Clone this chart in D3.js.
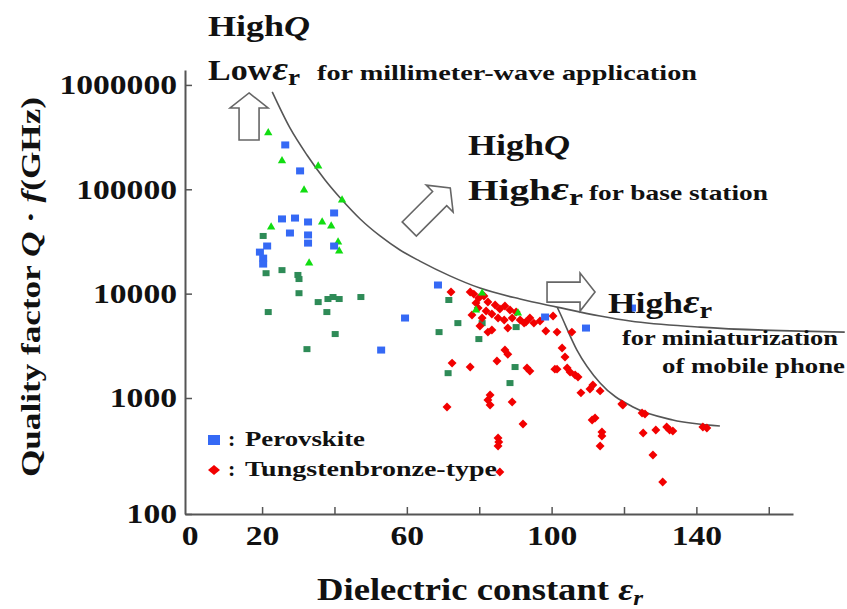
<!DOCTYPE html>
<html>
<head>
<meta charset="utf-8">
<script src="https://cdn.jsdelivr.net/npm/d3@7"></script>
<style>
  body { margin: 0; background: #fff; }
  svg { display: block; }
  text { font-family: "Liberation Serif", Tinos, "Times New Roman", "Nimbus Roman", FreeSerif, serif; font-weight: bold; fill: #111; }
</style>
</head>
<body>
<div id="chart"></div>
<script>
// [dielectric constant, Q*f (GHz)]
const perovskite = [
  [26.4, 266000], [30.5, 150000], [25.5, 52000], [29.1, 53000], [32.7, 48600],
  [27.7, 38100], [32.7, 36500], [32.7, 30500], [39.9, 59300], [39.9, 28600],
  [21.4, 28600], [19.4, 25000], [20.3, 21900], [20.3, 19200], [52.9, 2880],
  [68.6, 12100], [59.5, 5840], [98.2, 5970], [109.5, 4680], [122.2, 7280]
];
const tungstenbronze = [
  [72.2, 10350], [77.5, 10350], [78.5, 9900], [79.9, 9080], [81.3, 9500],
  [79.1, 8120], [82.4, 8300], [84.4, 7780], [85.7, 7120], [87.1, 7600],
  [88.5, 6960], [90.2, 6660], [79.7, 7280], [81.9, 6810], [83.5, 6370],
  [78.0, 6230], [80.8, 5840], [85.2, 5840], [86.9, 5580], [89.1, 5840],
  [91.3, 5580], [92.9, 5340], [94.0, 5840], [95.1, 5220], [96.8, 5460],
  [98.4, 4380], [100.4, 6100], [101.5, 4280], [105.6, 4280], [82.4, 4280],
  [83.5, 4480], [80.2, 4890], [87.9, 4680], [92.4, 5220],
  [72.5, 2160], [77.5, 1980], [71.1, 836], [83.0, 1070], [82.4, 961],
  [83.0, 871], [84.9, 2260], [87.1, 2880], [87.9, 2630], [89.1, 924],
  [92.1, 597], [85.2, 452], [85.4, 418], [85.2, 386], [85.7, 230],
  [93.2, 1940], [94.0, 1810], [100.9, 1890], [101.5, 1890], [104.3, 1940],
  [105.1, 1770], [106.5, 1660], [107.3, 1590], [102.9, 3010], [103.7, 2470],
  [108.1, 1120], [110.6, 1220], [111.4, 1330], [113.4, 1170], [111.2, 646],
  [112.0, 673], [113.9, 509], [113.9, 470], [113.4, 386], [119.4, 888],
  [119.7, 871], [125.0, 743], [125.8, 728], [125.3, 499], [128.8, 530],
  [131.8, 562], [132.6, 530], [133.5, 520], [128.0, 323], [130.7, 189],
  [141.8, 562], [142.9, 551]
];
// unlabelled groups in the original figure
const otherSquares = [
  [20.3, 35700], [21.1, 15700], [25.5, 16800], [29.9, 15100], [30.2, 13800],
  [30.2, 10100], [35.5, 8300], [38.2, 8880], [39.6, 9280], [41.3, 8880],
  [47.3, 9280], [21.7, 6660], [37.9, 6660], [40.2, 4100], [32.4, 2940],
  [71.6, 8690], [74.1, 5220], [68.9, 4280], [79.9, 3670], [80.8, 5220],
  [90.2, 4780], [89.9, 1980], [88.5, 1390], [71.4, 1730]
];
const otherTriangles = [
  [21.7, 347000], [25.5, 187000], [35.5, 167000], [31.6, 98400], [42.1, 78900],
  [22.5, 43500], [36.6, 48600], [39.1, 44400], [41.0, 31200], [41.3, 25600],
  [33.0, 19600], [80.8, 10100], [79.1, 6960], [90.7, 6520]
];
// guide curves
const limitLowEr = [
  [22.8, 857000], [27.7, 387000], [32.4, 213000], [37.4, 122700], [42.1, 78900],
  [47.1, 51900], [52.6, 35700], [58.1, 26200], [63.6, 20500], [71.9, 14800],
  [80.2, 11300], [91.3, 8880], [101.5, 7430], [113.4, 6100], [121.7, 5460],
  [141.0, 4780], [181.0, 4280]
];
const limitHighEr = [
  [101.6, 7350], [102.3, 6520], [107.0, 2877], [113.4, 1390], [122.5, 836],
  [133.5, 646], [146.5, 574]
];
const xTicks = [0, 20, 40, 60, 80, 100, 120, 140, 160];
const xLabels = [0, 20, 60, 100, 140];
const yTicks = [100, 1000, 10000, 100000, 1000000];

const width = 847, height = 609;
const svg = d3.select("#chart").append("svg")
  .attr("width", width).attr("height", height);

const x = d3.scaleLinear().domain([-1.3, 166.7]).range([185, 793]);
const y = d3.scaleLog().domain([100, 1000, 1.39e6]).range([514, 398, 70]);

const serif = '"Liberation Serif", Tinos, "Times New Roman", "Nimbus Roman", FreeSerif, serif';
const stretch = (sel, perChar) => sel
  .attr("textLength", function() { return this.textContent.length * perChar; })
  .attr("lengthAdjust", "spacingAndGlyphs");

// axes
const xAxis = d3.axisBottom(x).tickValues(xTicks)
  .tickSizeInner(-7).tickSizeOuter(0).tickPadding(11)
  .tickFormat(d => xLabels.includes(d) ? d : "");
const gx = svg.append("g").attr("transform", "translate(0,514)").call(xAxis);
gx.selectAll(".tick").filter(d => d === 0).select("line").remove();

const yAxis = d3.axisLeft(y).tickValues(yTicks)
  .tickSizeInner(-7).tickSizeOuter(0).tickPadding(8)
  .tickFormat(d3.format("d"));
const gy = svg.append("g").attr("transform", "translate(185,0)").call(yAxis);

[gx, gy].forEach(g => {
  g.attr("font-family", serif);
  g.select(".domain").attr("stroke", "#555").attr("stroke-width", 2);
  g.selectAll(".tick line").attr("stroke", "#555").attr("stroke-width", 1.5);
  g.selectAll(".tick text")
    .attr("font-weight", "bold")
    .attr("font-size", 28).attr("fill", "#111")
    .call(stretch, 16.8);
});

// guide curves
const line = d3.line().x(d => x(d[0])).y(d => y(d[1])).curve(d3.curveMonotoneX);
svg.append("g").selectAll("path").data([limitLowEr, limitHighEr]).join("path")
  .attr("d", line).attr("fill", "none").attr("stroke", "#555").attr("stroke-width", 1.6);

// points
svg.append("g").selectAll("rect").data(otherSquares).join("rect")
  .attr("x", d => x(d[0]) - 3.5).attr("y", d => y(d[1]) - 3)
  .attr("width", 7).attr("height", 6).attr("fill", "#2e8b57");

svg.append("g").selectAll("path").data(tungstenbronze).join("path")
  .attr("d", d3.symbol(d3.symbolSquare, 40))
  .attr("transform", d => `translate(${x(d[0])},${y(d[1])}) rotate(45)`)
  .attr("fill", "#f20000");

svg.append("g").selectAll("path").data(otherTriangles).join("path")
  .attr("d", d3.symbol(d3.symbolTriangle, 30))
  .attr("transform", d => `translate(${x(d[0])},${y(d[1])})`)
  .attr("fill", "#11dd11");

svg.append("g").selectAll("rect").data(perovskite).join("rect")
  .attr("x", d => x(d[0]) - 4).attr("y", d => y(d[1]) - 3.5)
  .attr("width", 8).attr("height", 7).attr("fill", "#3569f5");

// block arrows (tip position in data units, rotation in degrees)
const arrows = [
  { er: 16.4, qf: 838000, angle: 0, len: 47 },
  { er: 72.0, qf: 103000, angle: 45, len: 58 },
  { er: 112.0, qf: 10350, angle: 90, len: 48 }
];
const arrowPath = len => {
  const hw = 19, sw = 10, hl = 15;
  return `M0,0L${hw},${hl}L${sw},${hl}L${sw},${len}L${-sw},${len}L${-sw},${hl}L${-hw},${hl}Z`;
};
svg.append("g").selectAll("path").data(arrows).join("path")
  .attr("d", d => arrowPath(d.len))
  .attr("transform", d => `translate(${x(d.er)},${y(d.qf)}) rotate(${d.angle})`)
  .attr("fill", "#fff").attr("stroke", "#666").attr("stroke-width", 1.6);

// annotations
function highLabel(xp, yp, word, sym, w) {
  const t = svg.append("text").attr("x", xp).attr("y", yp).attr("font-size", 30);
  t.append("tspan").text(word);
  if (sym === "Q") {
    t.append("tspan").attr("font-style", "italic").text("Q");
  } else {
    t.append("tspan").attr("font-style", "italic").attr("font-size", 34).text("ε");
    t.append("tspan").attr("font-size", 24).attr("dy", 5).text("r");
  }
  t.attr("textLength", w).attr("lengthAdjust", "spacingAndGlyphs");
}
highLabel(208, 36, "High", "Q", 102);
highLabel(208, 80, "Low", "e", 92);
highLabel(468, 155, "High", "Q", 102);
highLabel(468, 200, "High", "e", 115);
highLabel(608, 313, "High", "e", 104);

const notes = [
  { x: 317, y: 80, s: "for millimeter-wave application", w: 380 },
  { x: 589, y: 200, s: "for base station", w: 179 },
  { x: 622, y: 345, s: "for miniaturization", w: 216 },
  { x: 662, y: 373, s: "of mobile phone", w: 183 }
];
svg.append("g").selectAll("text").data(notes).join("text")
  .attr("x", d => d.x).attr("y", d => d.y).attr("font-size", 22)
  .attr("textLength", d => d.w).attr("lengthAdjust", "spacingAndGlyphs")
  .text(d => d.s);

// axis titles
const xt = svg.append("text").attr("x", 317).attr("y", 600).attr("font-size", 32);
xt.append("tspan").text("Dielectric constant ");
xt.append("tspan").attr("font-style", "italic").text("ε");
xt.append("tspan").attr("font-style", "italic").attr("font-size", 22).attr("dy", 5).text("r");
xt.attr("textLength", 326).attr("lengthAdjust", "spacingAndGlyphs");

const yt = svg.append("text").attr("transform", "translate(40,477) rotate(-90)").attr("font-size", 27);
yt.append("tspan").text("Quality factor ");
yt.append("tspan").attr("font-style", "italic").text("Q");
yt.append("tspan").text(" · ");
yt.append("tspan").attr("font-style", "italic").text("f");
yt.append("tspan").text("(GHz)");
yt.attr("textLength", 380).attr("lengthAdjust", "spacingAndGlyphs");

// legend
const legend = [
  { name: "Perovskite", color: "#3569f5", shape: "square", y: 440 },
  { name: "Tungstenbronze-type", color: "#f20000", shape: "diamond", y: 470 }
];
const lg = svg.append("g").selectAll("g").data(legend).join("g")
  .attr("transform", d => `translate(0,${d.y})`);
lg.filter(d => d.shape === "square").append("rect")
  .attr("x", 208).attr("y", -5).attr("width", 12).attr("height", 10).attr("fill", d => d.color);
lg.filter(d => d.shape === "diamond").append("path")
  .attr("d", "M-6,0L0,-5L6,0L0,5Z").attr("transform", "translate(214,0)").attr("fill", d => d.color);
lg.append("text").attr("x", 228).attr("y", 6).attr("font-size", 22).text(":");
lg.append("text").attr("x", 245).attr("y", 6).attr("font-size", 21)
  .attr("textLength", d => d.name === "Perovskite" ? 120 : 252)
  .attr("lengthAdjust", "spacingAndGlyphs")
  .text(d => d.name);
</script>
</body>
</html>
